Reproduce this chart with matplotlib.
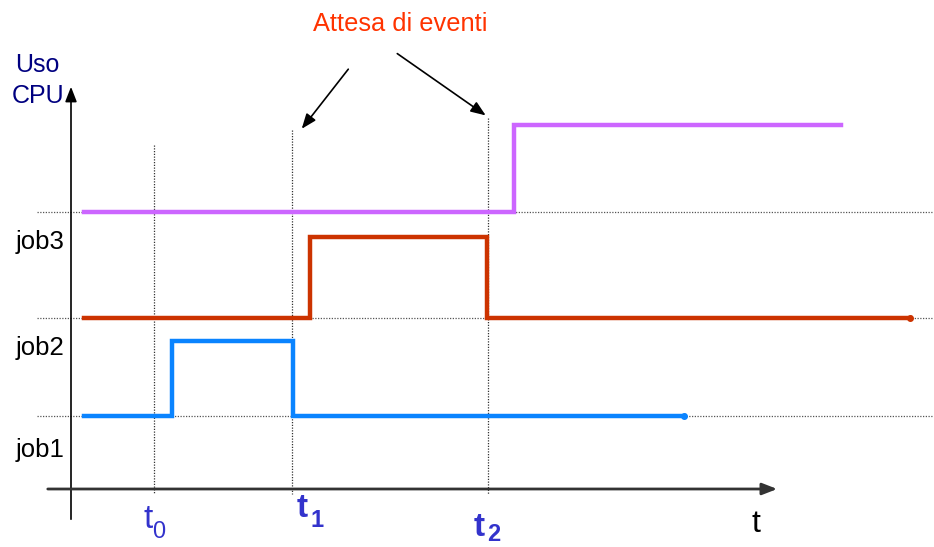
import matplotlib
matplotlib.use("Agg")
import matplotlib.pyplot as plt

plt.rcParams['font.family'] = ['Liberation Sans', 'DejaVu Sans']

# --- data (schematic units) ---
job_names = ["job1", "job2", "job3"]
base_levels = [416, 318, 212]          # baseline of each job row
blue_t = [84, 172, 293, 684]           # job1 (blue) switching times
blue_y = [416, 341, 416, 416]
red_t = [84, 310, 487, 910]            # job2 (red)
red_y = [318, 237, 318, 318]
purple_t = [84, 514, 841]              # job3 (purple)
purple_y = [212, 125, 125]
event_times = [154, 292, 488]          # t0, t1, t2
event_subs = ["0", "1", "2"]

fig = plt.figure(figsize=(9.34, 5.47), dpi=100)
ax = fig.add_axes([0, 0, 1, 1])
ax.set_xlim(0, 934)
ax.set_ylim(547, 0)
ax.axis('off')

# horizontal dotted guides
for y in base_levels[::-1]:
    ax.plot([37, 934], [y, y], color='#555555', lw=0.9, ls=(0, (1, 1.2)))

# vertical dotted event lines
vtops = [145, 130, 118]
for t, top in zip(event_times, vtops):
    ax.plot([t, t], [top, 494], color='#333333', lw=0.9, ls=(0, (1, 1.2)))

# axes arrows
ax.annotate('', xy=(71, 84), xytext=(71, 522),
            arrowprops=dict(arrowstyle='-|>,head_length=0.9,head_width=0.35', color='black', lw=1.2))
ax.annotate('', xy=(780, 489), xytext=(45, 489),
            arrowprops=dict(arrowstyle='-|>,head_length=0.9,head_width=0.35', color='#333333', lw=2))

# step lines
ax.step(blue_t, blue_y, where='post', color='#0A84FF', lw=3.2, solid_joinstyle='miter')
ax.step(red_t, red_y, where='post', color='#CC3300', lw=3.2, solid_joinstyle='miter')
ax.step(purple_t, purple_y, where='post', color='#CC66FF', lw=3.2, solid_joinstyle='miter')
ax.plot(blue_t[-1:], blue_y[-1:], 'o', color='#0A84FF', ms=4)
ax.plot(red_t[-1:], red_y[-1:], 'o', color='#CC3300', ms=4)

# job labels
for name, y in zip(job_names, [450, 348, 242]):
    ax.text(16, y, name, fontsize=18.5, ha='left', va='center', color='black')

ax.text(37, 65, "Uso", fontsize=18, ha='center', va='center', color='#000080')
ax.text(38, 96, "CPU", fontsize=18, ha='center', va='center', color='#000080')

# title & arrows
ax.text(400, 24, "Attesa di eventi", fontsize=18.3, ha='center', va='center', color='#FF3300')
ax.annotate('', xy=(300, 131), xytext=(350, 67),
            arrowprops=dict(arrowstyle='-|>,head_length=0.9,head_width=0.35', color='black', lw=1.2))
ax.annotate('', xy=(488, 117), xytext=(395, 52),
            arrowprops=dict(arrowstyle='-|>,head_length=0.9,head_width=0.35', color='black', lw=1.2))

# time labels (t + subscript as separate texts)
t_pos = [(143, 528), (297, 517), (474, 536)]
s_pos = [(152, 538), (310, 527), (487, 541)]
weights = ['normal', 'bold', 'bold']
for sub, (tx, ty), (sx, sy), w in zip(event_subs, t_pos, s_pos, weights):
    ax.text(tx, ty, "t", fontsize=24, ha='left', va='baseline', color='#3333CC', fontweight=w)
    ax.text(sx, sy, sub, fontsize=17, ha='left', va='baseline', color='#3333CC', fontweight=w)
ax.text(751, 532, "t", fontsize=23, ha='left', va='baseline', color='black')

fig.savefig("out.png", dpi=100)
